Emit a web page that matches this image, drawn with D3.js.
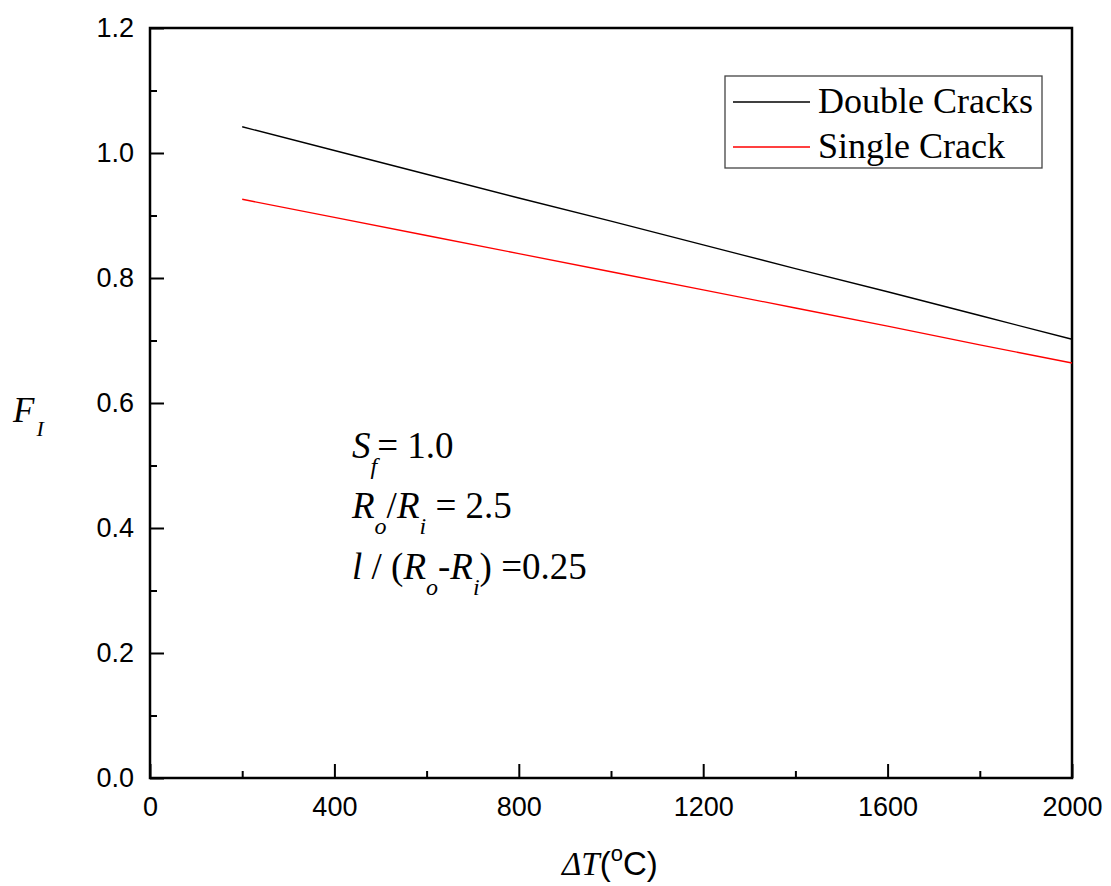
<!DOCTYPE html>
<html>
<head>
<meta charset="utf-8">
<script src="https://cdn.jsdelivr.net/npm/d3@7"></script>
<style>
  body { margin: 0; background: #fff; }
  svg { display: block; }
</style>
</head>
<body>
<svg id="chart" width="1111" height="886"></svg>
<script>
// data
const deltaT = [200, 400, 600, 800, 1000, 1200, 1400, 1600, 1800, 2000];
const doubleCracks = [1.042, 1.004, 0.966, 0.928, 0.891, 0.853, 0.815, 0.778, 0.740, 0.702];
const singleCrack = [0.926, 0.897, 0.868, 0.839, 0.810, 0.781, 0.752, 0.723, 0.693, 0.664];
const xTicks = [0, 400, 800, 1200, 1600, 2000];
const yTicks = [0.0, 0.2, 0.4, 0.6, 0.8, 1.0, 1.2];

const series = [
  { name: "Double Cracks", values: doubleCracks, color: "#000000" },
  { name: "Single Crack", values: singleCrack, color: "#ff0000" },
];

const margin = { left: 150, top: 28, right: 39, bottom: 108 };
const width = 1111 - margin.left - margin.right;
const height = 886 - margin.top - margin.bottom;

const sans = "Liberation Sans, Arial, sans-serif";
const serif = "Liberation Serif, Times New Roman, serif";

const svg = d3.select("#chart");
const g = svg.append("g").attr("transform", `translate(${margin.left},${margin.top})`);

const x = d3.scaleLinear().domain([0, 2000]).range([0, width]);
const y = d3.scaleLinear().domain([0, 1.2]).range([height, 0]);

// minor ticks first (inside)
g.append("g")
  .attr("transform", `translate(0,${height})`)
  .call(d3.axisBottom(x).tickValues(d3.range(200, 2000, 400)).tickSize(-7).tickFormat(""))
  .call(a => a.select(".domain").remove())
  .selectAll("line").attr("stroke-width", 2);
g.append("g")
  .call(d3.axisLeft(y).tickValues(d3.range(0.1, 1.2, 0.2)).tickSize(-7).tickFormat(""))
  .call(a => a.select(".domain").remove())
  .selectAll("line").attr("stroke-width", 2);

// major ticks
const xAxis = g.append("g")
  .attr("transform", `translate(0,${height})`)
  .call(d3.axisBottom(x).tickValues(xTicks).tickSize(-14).tickPadding(10).tickFormat(d3.format("d")));
xAxis.select(".domain").remove();
xAxis.selectAll("line").attr("stroke-width", 2);
xAxis.attr("font-family", sans).attr("font-size", 27);
xAxis.selectAll("text").attr("dy", "1.05em").attr("fill", "#000");

const yAxis = g.append("g")
  .call(d3.axisLeft(y).tickValues(yTicks).tickSize(-14).tickPadding(16).tickFormat(d3.format(".1f")));
yAxis.select(".domain").remove();
yAxis.selectAll("line").attr("stroke-width", 2);
yAxis.attr("font-family", sans).attr("font-size", 27);
yAxis.selectAll("text").attr("fill", "#000");

// frame
g.append("rect")
  .attr("width", width).attr("height", height)
  .attr("fill", "none").attr("stroke", "#000").attr("stroke-width", 2.5);

// lines
const line = d3.line().x((d, i) => x(deltaT[i])).y(d => y(d));
g.selectAll(".series")
  .data(series)
  .enter()
  .append("path")
  .attr("class", "series")
  .attr("d", d => line(d.values))
  .attr("fill", "none")
  .attr("stroke", d => d.color)
  .attr("stroke-width", 1.3);

// legend
const legend = svg.append("g");
legend.append("rect")
  .attr("x", 725).attr("y", 76).attr("width", 317).attr("height", 92)
  .attr("fill", "#fff").attr("stroke", "#444").attr("stroke-width", 1.3);
series.forEach((s, i) => {
  const ly = 102 + i * 45;
  legend.append("line")
    .attr("x1", 733).attr("x2", 810).attr("y1", ly).attr("y2", ly)
    .attr("stroke", s.color).attr("stroke-width", 1.3);
  legend.append("text")
    .attr("x", 818).attr("y", ly + 11)
    .attr("font-family", serif)
    .attr("font-size", 36)
    .text(s.name);
});

// annotation text
const ann = svg.append("g").attr("font-family", serif).attr("font-size", 37);
const sub = (txt, label) => {
  txt.append("tspan").attr("font-style", "italic").attr("font-size", 24).attr("dy", 16).text(label);
};

let t = ann.append("text").attr("x", 352).attr("y", 458);
t.append("tspan").attr("font-style", "italic").text("S");
sub(t, "f");
t.append("tspan").attr("dy", -16).text("= 1.0");

t = ann.append("text").attr("x", 352).attr("y", 518);
t.append("tspan").attr("font-style", "italic").text("R");
sub(t, "o");
t.append("tspan").attr("dy", -16).text("/");
t.append("tspan").attr("font-style", "italic").text("R");
sub(t, "i");
t.append("tspan").attr("dy", -16).text(" = 2.5");

t = ann.append("text").attr("x", 352).attr("y", 579);
t.append("tspan").attr("font-style", "italic").text("l");
t.append("tspan").text(" / (");
t.append("tspan").attr("font-style", "italic").text("R");
sub(t, "o");
t.append("tspan").attr("dy", -16).text("-");
t.append("tspan").attr("font-style", "italic").text("R");
sub(t, "i");
t.append("tspan").attr("dy", -16).text(") =0.25");

// y axis title
t = svg.append("text").attr("x", 13).attr("y", 422).attr("font-family", serif).attr("font-size", 35).attr("font-style", "italic");
t.append("tspan").text("F");
t.append("tspan").attr("font-size", 22).attr("dy", 14).attr("dx", 2).text("I");

// x axis title
t = svg.append("text").attr("x", 562).attr("y", 875).attr("font-size", 33);
t.append("tspan").attr("font-family", serif).attr("font-style", "italic").text("ΔT");
t.append("tspan").attr("font-family", sans).text("(");
t.append("tspan").attr("font-family", sans).attr("font-size", 22).attr("dy", -14).text("o");
t.append("tspan").attr("font-family", sans).attr("dy", 14).text("C)");
</script>
</body>
</html>
